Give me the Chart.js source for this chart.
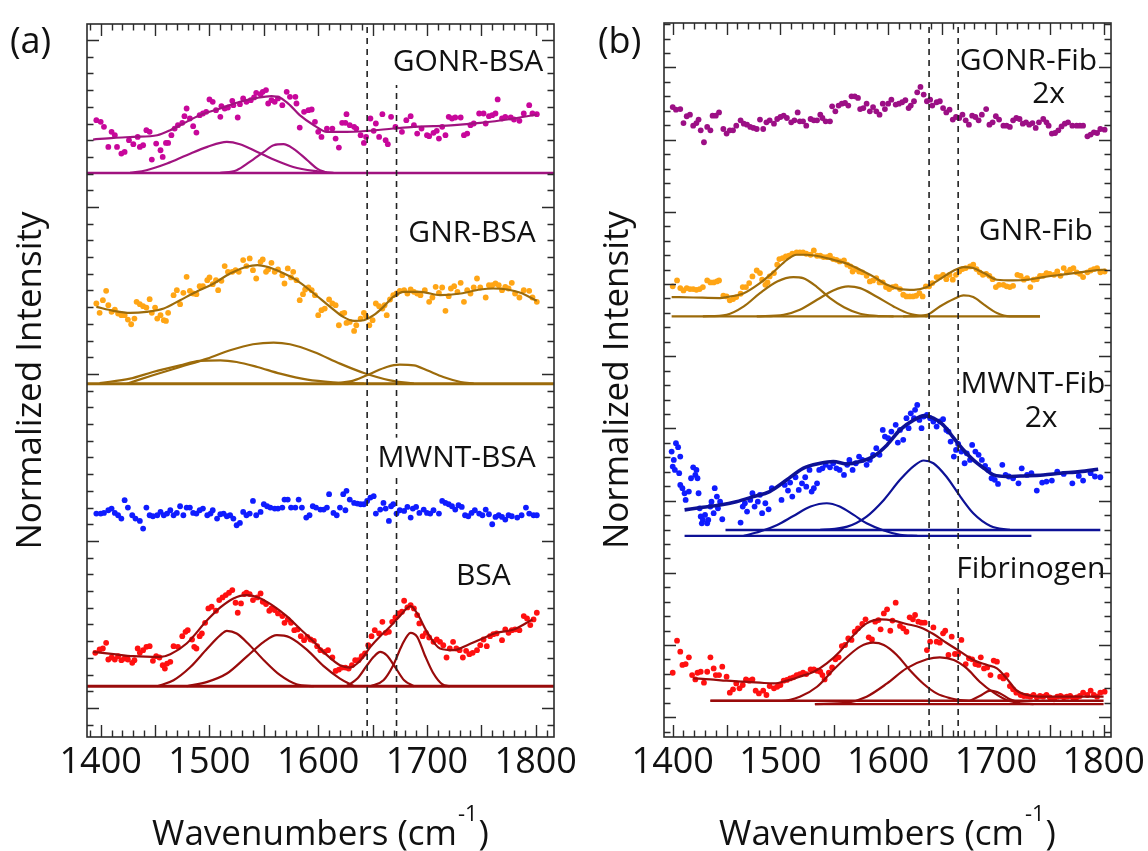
<!DOCTYPE html>
<html>
<head>
<meta charset="utf-8">
<title>FTIR amide spectra</title>
<script src="https://cdn.jsdelivr.net/npm/chart.js@4.4.1/dist/chart.umd.min.js"></script>
<style>
html,body{margin:0;padding:0;background:#fff;overflow:hidden;}
#wrap{position:relative;width:1148px;height:851px;}
#wrap canvas{position:absolute;left:0;top:0;}
</style>
</head>
<body>
<div id="wrap">
<canvas id="chartA" width="1148" height="851"></canvas>
<canvas id="chartB" width="1148" height="851"></canvas>
</div>
<script>
// ---------------- tick labels ----------------
const xTickLabels = [1400, 1500, 1600, 1700, 1800];

// ---------------- panel (a) : BSA ----------------
const gonrBsaX = [1396,1400,1403,1407,1410,1413,1415,1419,1422,1426,1430,1434,1436,1439,1442,1445,1447,1451,1455,1457,1460,1462,1465,1468,1471,1475,1477,1479,1482,1485,1488,1491,1494,1497,1500,1503,1506,1510,1511,1514,1517,1521,1522,1526,1528,1531,1534,1538,1541,1543,1547,1549,1552,1554,1557,1560,1563,1567,1571,1574,1579,1580,1583,1587,1591,1594,1597,1600,1603,1608,1613,1616,1619,1622,1625,1626,1629,1633,1635,1639,1642,1644,1648,1651,1653,1656,1659,1662,1664,1667,1671,1677,1681,1685,1688,1691,1695,1700,1702,1706,1709,1711,1714,1717,1720,1723,1726,1731,1734,1737,1740,1743,1748,1752,1754,1757,1760,1763,1765,1769,1772,1777,1780,1785,1789,1794,1797,1801];
const gonrBsaY = [35.2,35.1,34.8,33.6,34.5,34.3,33.6,33.2,33.3,34.0,33.76,34.2,33.6,33.7,34.6,34.5,32.84,33.8,33.4,33.0,33.84,33.84,34.3,34.7,34.9,35.04,35.44,35.9,35.3,34.84,34.46,35.5,35.6,35.7,36.44,36.3,35.8,35.4,36.04,35.9,35.96,36.36,36.1,35.36,36.16,36.5,36.3,36.4,36.56,36.84,36.76,36.9,37.0,36.2,36.4,36.3,36.5,36.1,36.9,36.6,36.6,36.2,34.76,35.7,35.8,35.84,35.1,34.5,34.2,34.7,34.7,34.1,33.56,35.04,35.04,35.56,34.9,34.8,34.7,34.3,33.84,34.2,35.3,34.56,35.0,34.2,35.56,34.0,33.76,35.4,34.8,34.5,35.2,35.44,34.9,34.4,34.7,34.3,34.24,34.44,34.56,34.1,34.8,34.3,35.4,35.3,35.36,35.36,34.3,34.4,34.9,35.0,35.6,35.6,35.0,35.44,35.5,35.6,36.44,35.3,35.4,35.36,35.24,35.16,35.6,36.1,35.6,35.56];
const gonrBsaFitX = [1393,1412,1430,1452,1464,1476,1491,1510,1528,1544,1557,1565,1574,1583,1596,1608,1626,1645,1669,1688,1706,1725,1749,1774,1801];
const gonrBsaFitY = [34.04,34.14,34.2,34.3,34.6,35.0,35.5,35.9,36.3,36.54,36.64,36.54,36.1,35.5,34.9,34.5,34.5,34.56,34.7,34.8,34.84,34.9,35.04,35.24,35.54];
const gonrBsaP1X = [1427,1442,1461,1479,1498,1516,1528,1544,1559,1577,1596,1614];
const gonrBsaP1Y = [32.04,32.2,32.6,33.1,33.6,33.9,33.76,33.3,32.84,32.4,32.16,32.04];
const gonrBsaP2X = [1510,1525,1537,1550,1559,1568,1577,1590,1599,1608];
const gonrBsaP2Y = [32.04,32.2,32.7,33.3,33.7,33.76,33.5,32.8,32.3,32.04];
const gonrBsaBase = 32.04;

const gnrBsaX = [1396,1399,1402,1405,1407,1410,1413,1416,1419,1422,1425,1428,1431,1433,1436,1439,1442,1445,1447,1450,1452,1455,1458,1460,1462,1467,1470,1473,1476,1479,1482,1485,1488,1491,1494,1498,1500,1503,1506,1508,1511,1514,1517,1521,1524,1527,1531,1534,1537,1540,1543,1547,1549,1552,1554,1557,1560,1563,1567,1569,1572,1575,1577,1580,1583,1586,1588,1591,1594,1597,1600,1603,1606,1610,1613,1616,1619,1622,1624,1626,1629,1633,1635,1639,1642,1644,1647,1650,1653,1656,1659,1661,1663,1666,1669,1672,1675,1679,1682,1685,1688,1691,1694,1698,1702,1705,1708,1711,1714,1717,1720,1722,1725,1728,1731,1734,1737,1740,1743,1746,1749,1754,1757,1760,1763,1766,1769,1772,1775,1778,1781,1785,1789,1794,1797,1801];
const gnrBsaY = [24.22,23.66,24.42,24.98,24.12,23.72,23.86,23.62,23.52,23.52,23.26,22.98,23.32,24.32,24.18,24.06,23.98,24.48,23.66,23.98,23.32,23.52,23.22,23.18,23.66,24.72,25.02,24.18,24.86,25.82,24.98,24.82,24.78,25.26,25.26,25.62,25.78,25.38,25.62,25.02,25.58,26.46,26.12,26.12,26.22,26.12,26.82,26.46,26.92,26.22,25.72,26.72,26.86,26.12,26.26,26.66,26.12,26.26,25.92,25.42,26.32,25.78,26.12,25.62,24.42,24.78,25.06,25.18,25.02,24.72,23.52,23.82,23.92,24.46,24.22,24.12,22.92,23.62,23.66,23.06,23.12,22.58,22.92,23.32,23.66,23.46,22.92,23.22,24.22,24.06,23.92,24.12,23.52,24.46,24.72,24.82,24.98,25.02,24.82,25.06,24.92,24.82,24.72,25.02,24.32,24.58,25.22,24.86,25.18,23.78,24.66,25.12,25.26,24.92,25.46,24.32,25.02,24.82,25.18,25.72,25.18,24.58,25.32,25.32,25.42,25.32,25.02,25.22,25.12,25.46,24.82,24.58,25.02,24.98,24.58,24.32];
const gnrBsaFitX = [1396,1412,1427,1442,1458,1473,1488,1504,1519,1534,1544,1553,1565,1580,1596,1611,1623,1633,1642,1651,1660,1669,1679,1694,1712,1731,1749,1761,1774,1786,1801];
const gnrBsaFitY = [24.02,23.78,23.66,23.72,23.92,24.42,24.92,25.42,26.02,26.42,26.52,26.42,26.12,25.62,24.82,24.02,23.42,23.18,23.22,23.52,24.02,24.62,24.92,24.92,24.72,24.82,25.06,25.12,25.06,24.86,24.38];
const gnrBsaP1X = [1399,1427,1448,1473,1491,1510,1525,1544,1565,1590,1614,1642];
const gnrBsaP1Y = [19.46,19.72,20.12,20.52,20.78,20.82,20.72,20.42,20.02,19.66,19.5,19.42];
const gnrBsaP2X = [1424,1448,1473,1498,1519,1540,1559,1574,1596,1620,1642,1666,1688];
const gnrBsaP2Y = [19.42,19.92,20.42,20.92,21.42,21.78,21.88,21.78,21.32,20.62,20.06,19.62,19.42];
const gnrBsaP3X = [1614,1633,1648,1663,1675,1688,1700,1715,1731,1743];
const gnrBsaP3Y = [19.42,19.62,20.02,20.42,20.56,20.52,20.22,19.82,19.52,19.42];
const gnrBsaBase = 19.42;

const mwntBsaX = [1396,1400,1403,1407,1410,1413,1416,1419,1422,1425,1429,1432,1436,1439,1442,1445,1448,1452,1455,1458,1461,1464,1467,1470,1473,1476,1479,1482,1485,1488,1491,1494,1498,1501,1503,1507,1510,1513,1516,1519,1522,1525,1528,1531,1534,1537,1540,1543,1547,1550,1553,1556,1560,1563,1567,1569,1572,1575,1579,1582,1585,1589,1592,1595,1598,1602,1605,1608,1610,1614,1617,1620,1623,1625,1626,1629,1633,1636,1639,1642,1645,1648,1651,1653,1657,1660,1662,1665,1667,1669,1672,1675,1679,1682,1685,1687,1690,1693,1697,1700,1703,1706,1711,1714,1717,1720,1723,1726,1729,1732,1735,1738,1741,1744,1748,1751,1754,1757,1760,1763,1766,1769,1772,1775,1778,1783,1787,1791,1794,1798,1801];
const mwntBsaY = [11.64,11.64,11.68,11.84,11.94,11.68,11.54,11.34,12.44,12.0,11.54,11.34,11.2,10.74,12.0,11.54,11.48,11.54,11.74,11.54,11.64,11.84,11.54,11.68,12.08,11.54,12.0,12.0,11.68,11.64,11.84,11.94,11.54,11.64,11.84,11.34,11.6,11.64,11.48,11.54,11.34,10.94,11.08,11.74,11.54,11.64,12.4,11.54,11.74,12.2,12.08,12.0,11.94,11.94,12.0,12.48,12.48,12.0,12.0,12.48,12.0,11.4,11.54,12.08,12.0,11.88,11.88,12.0,12.8,11.68,11.54,12.0,12.8,11.84,13.0,12.48,12.28,12.24,12.2,12.2,12.4,12.6,12.68,11.64,11.88,12.28,11.94,11.2,12.08,12.2,11.64,11.84,11.8,12.04,11.4,11.94,12.04,11.68,11.88,11.68,11.64,11.84,11.64,12.4,12.28,12.2,12.08,11.88,12.14,12.04,11.54,11.48,11.68,11.84,11.64,11.54,11.88,11.6,11.0,11.44,11.54,11.44,11.28,11.54,11.48,11.4,11.54,12.0,11.64,11.54,11.54];

const bsaX = [1395,1399,1402,1405,1407,1410,1413,1416,1419,1422,1425,1429,1431,1434,1436,1439,1442,1445,1448,1451,1454,1457,1459,1461,1464,1467,1471,1475,1478,1480,1484,1486,1488,1491,1493,1496,1499,1502,1506,1509,1512,1515,1518,1521,1524,1526,1529,1532,1534,1537,1540,1544,1547,1549,1552,1555,1557,1560,1563,1567,1569,1572,1575,1578,1581,1584,1587,1590,1593,1596,1599,1602,1606,1609,1613,1616,1619,1622,1625,1628,1631,1634,1637,1640,1643,1646,1649,1652,1656,1659,1662,1665,1668,1671,1674,1677,1679,1682,1685,1688,1691,1693,1696,1699,1702,1706,1709,1712,1715,1718,1721,1724,1727,1730,1733,1736,1739,1742,1746,1749,1752,1755,1758,1761,1764,1769,1772,1775,1778,1781,1785,1789,1792,1795,1798,1801];
const bsaY = [3.3,3.5,3.56,3.9,2.9,3.02,2.9,3.1,2.86,2.96,2.9,2.7,2.86,3.56,3.3,3.46,3.66,3.7,2.82,3.1,3.02,2.56,2.36,2.66,2.76,3.7,3.66,4.3,4.56,4.66,4.1,3.66,3.56,4.3,4.46,5.1,5.96,6.06,5.82,6.46,6.62,6.76,6.9,7.06,6.3,5.7,6.26,6.82,6.9,6.82,6.46,6.62,6.86,6.36,6.22,5.82,5.96,5.86,5.66,5.5,5.1,5.3,5.1,4.66,4.7,4.3,4.06,4.26,4.1,4.02,3.7,3.46,3.36,3.46,3.02,2.22,2.3,2.42,2.42,2.36,2.56,2.86,2.86,3.1,3.26,3.76,4.3,4.66,4.46,5.16,4.5,4.56,5.16,5.42,5.66,5.76,6.42,6.02,6.16,5.96,5.56,5.06,4.3,4.5,4.22,3.96,4.1,3.96,3.76,3.02,3.56,3.96,3.56,3.46,3.02,3.42,3.22,3.3,3.46,3.76,4.1,3.7,4.3,4.42,4.46,4.06,4.7,4.5,4.66,4.7,4.66,5.5,5.36,4.96,5.3,5.7];
const bsaFitX = [1393,1412,1430,1455,1464,1479,1498,1510,1522,1534,1547,1559,1571,1583,1596,1608,1620,1629,1639,1648,1657,1666,1675,1685,1691,1700,1712,1725,1737,1749,1764,1780,1797];
const bsaFitY = [3.36,3.22,3.1,3.06,3.22,3.86,5.26,6.02,6.56,6.76,6.56,6.1,5.5,4.76,3.96,3.16,2.56,2.42,2.86,3.66,4.3,4.86,5.5,6.1,5.66,4.56,3.56,3.46,3.76,4.1,4.5,4.7,5.3];
const bsaP1X = [1452,1467,1482,1498,1510,1516,1525,1537,1550,1565,1580,1596];
const bsaP1Y = [1.3,1.66,2.42,3.56,4.36,4.62,4.46,3.76,2.86,1.96,1.42,1.3];
const bsaP2X = [1479,1498,1516,1534,1550,1562,1574,1590,1605,1620,1633];
const bsaP2Y = [1.3,1.56,2.06,3.06,3.96,4.36,4.22,3.46,2.5,1.76,1.3];
const bsaP3X = [1626,1636,1645,1651,1657,1663,1671,1679,1688];
const bsaP3Y = [1.3,1.76,2.56,3.06,3.36,3.16,2.42,1.66,1.3];
const bsaP4X = [1648,1660,1669,1677,1685,1691,1698,1706,1714,1721];
const bsaP4Y = [1.3,1.66,2.56,3.76,4.5,4.26,3.16,2.06,1.42,1.3];
const bsaBase = 1.3;

const markersA = [1645, 1672];

// ---------------- panel (b) : Fibrinogen ----------------
const gonrFibX = [1400,1403,1407,1410,1413,1416,1419,1422,1424,1426,1429,1432,1435,1437,1440,1443,1447,1450,1453,1456,1459,1463,1466,1469,1472,1475,1478,1481,1484,1487,1490,1494,1497,1500,1503,1506,1510,1513,1516,1518,1521,1524,1528,1531,1534,1537,1539,1542,1546,1548,1551,1554,1557,1560,1563,1566,1569,1572,1574,1577,1580,1583,1586,1589,1592,1595,1597,1600,1603,1607,1610,1613,1616,1619,1621,1624,1627,1630,1633,1636,1639,1641,1645,1648,1651,1654,1657,1660,1663,1666,1669,1672,1675,1678,1681,1684,1687,1691,1694,1697,1700,1703,1707,1710,1713,1716,1719,1722,1725,1728,1731,1734,1737,1740,1744,1747,1749,1752,1755,1758,1761,1764,1767,1771,1775,1778,1781,1785,1788,1791,1794,1797,1801];
const gonrFibY = [42.26,42.08,42.12,41.15,41.62,41.73,40.97,41.15,41.39,40.65,39.82,40.88,40.65,41.66,41.66,41.89,40.74,40.42,40.65,40.65,40.97,41.34,41.11,41.04,40.88,40.81,40.74,41.39,40.74,41.2,41.34,41.11,41.43,41.57,41.66,41.5,41.2,41.34,41.89,41.27,41.27,40.97,41.43,41.34,41.34,41.73,41.5,41.27,41.27,42.31,41.96,42.36,42.49,42.54,42.36,43.0,43.0,42.89,42.12,42.19,42.49,41.96,42.26,41.96,41.73,42.49,42.12,42.49,42.77,42.43,42.49,42.59,42.73,42.19,42.36,42.66,43.28,43.65,43.12,42.66,42.77,42.36,42.59,42.66,42.19,41.89,42.08,41.39,41.57,41.5,41.73,41.34,41.04,41.66,41.57,41.34,41.73,42.12,41.04,41.2,41.62,41.39,40.97,40.97,40.88,41.34,41.5,41.43,41.11,41.2,41.04,41.15,40.81,41.2,41.43,41.2,40.97,40.42,40.46,40.65,40.92,41.11,41.2,40.97,40.97,40.97,40.97,40.23,40.35,40.51,40.46,40.74,40.69];

const gnrFibX = [1400,1404,1407,1410,1413,1416,1419,1422,1425,1428,1432,1435,1438,1441,1443,1447,1450,1453,1456,1459,1463,1465,1468,1471,1474,1478,1481,1483,1486,1488,1490,1494,1497,1499,1502,1505,1508,1511,1515,1518,1521,1524,1528,1531,1534,1537,1540,1543,1546,1549,1552,1555,1559,1562,1565,1567,1570,1573,1576,1580,1583,1586,1589,1592,1595,1598,1601,1604,1607,1611,1614,1617,1620,1623,1626,1629,1632,1635,1638,1641,1645,1648,1651,1654,1657,1660,1663,1666,1669,1672,1676,1679,1682,1685,1688,1691,1694,1697,1700,1703,1707,1710,1713,1716,1720,1723,1726,1729,1732,1735,1738,1741,1744,1747,1750,1754,1757,1760,1763,1766,1769,1772,1775,1778,1781,1785,1788,1791,1794,1797,1801];
const gnrFibY = [29.84,30.25,29.72,29.56,29.72,29.65,29.65,29.6,29.65,29.79,30.25,30.11,30.11,30.18,30.25,29.19,29.14,28.87,28.96,29.1,29.33,29.79,29.79,30.07,30.53,30.94,30.76,30.3,29.95,30.11,30.53,30.76,31.34,31.73,31.8,31.91,31.96,32.1,32.19,32.19,32.19,32.1,32.03,32.33,31.96,31.96,31.87,31.87,31.96,31.73,31.68,31.57,31.64,31.34,31.22,30.87,31.04,30.87,30.81,30.57,30.18,30.25,30.41,30.11,30.11,29.79,29.65,29.79,29.84,29.65,29.26,29.14,29.14,29.14,29.19,29.37,29.14,29.84,29.84,30.07,30.48,30.48,30.64,30.34,30.64,30.3,30.64,30.87,31.04,31.11,31.22,31.34,31.04,30.81,30.64,30.71,30.57,30.34,29.79,29.95,29.95,29.84,29.79,29.88,30.64,30.57,30.3,30.41,29.79,30.3,30.34,30.57,30.57,30.76,30.71,30.64,30.87,30.57,31.11,30.81,30.99,31.11,30.81,30.71,30.48,30.81,30.94,31.04,31.11,30.81,30.87];
const gnrFibFitX = [1399,1419,1444,1450,1466,1481,1494,1506,1515,1524,1537,1549,1562,1574,1586,1599,1611,1624,1636,1648,1661,1670,1679,1689,1701,1716,1729,1744,1760,1778,1791,1802];
const gnrFibFitY = [29.1,29.07,29.03,29.1,29.37,30.07,30.87,31.68,32.03,32.03,31.91,31.68,31.41,30.99,30.53,29.95,29.65,29.6,29.79,30.34,30.94,31.17,31.11,30.76,30.3,30.25,30.3,30.48,30.64,30.81,30.94,30.99];
const gnrFibP1X = [1428,1450,1466,1481,1497,1512,1521,1534,1546,1559,1574,1589,1605];
const gnrFibP1Y = [27.76,27.87,28.45,29.37,30.18,30.48,30.41,29.79,29.03,28.4,27.94,27.8,27.76];
const gnrFibP2X = [1478,1503,1518,1534,1549,1563,1574,1589,1605,1620,1636];
const gnrFibP2Y = [27.76,27.87,28.22,28.91,29.56,29.84,29.72,29.14,28.45,27.94,27.76];
const gnrFibP3X = [1614,1636,1648,1661,1670,1679,1689,1701,1713,1741];
const gnrFibP3Y = [27.76,27.87,28.45,28.97,29.21,29.1,28.57,27.99,27.76,27.76];
const gnrFibBaseX = [1399, 1741];
const gnrFibBase = 27.76;

const mwntFibX = [1399,1401,1403,1405,1407,1400,1402,1406,1407,1409,1411,1412,1415,1417,1419,1421,1422,1423,1424,1425,1426,1427,1428,1430,1432,1433,1435,1436,1438,1439,1441,1442,1444,1446,1463,1465,1467,1469,1472,1474,1476,1479,1481,1483,1486,1489,1492,1501,1504,1507,1509,1511,1514,1517,1520,1523,1524,1527,1529,1531,1534,1536,1539,1542,1546,1549,1552,1555,1559,1562,1564,1567,1570,1573,1576,1580,1583,1586,1589,1592,1595,1597,1600,1603,1607,1609,1611,1614,1617,1619,1621,1624,1625,1627,1629,1631,1633,1636,1639,1642,1645,1648,1651,1654,1656,1658,1661,1663,1665,1668,1671,1673,1676,1678,1681,1684,1687,1690,1693,1696,1699,1702,1706,1709,1712,1716,1721,1724,1729,1733,1738,1743,1747,1752,1757,1763,1771,1777,1781,1788,1792,1797];
const mwntFibY = [18.4,17.82,18.98,18.7,18.05,17.36,17.13,16.9,16.09,15.86,15.51,15.05,15.63,16.55,17.31,16.78,17.13,16.55,15.51,14.47,13.9,13.43,13.66,14.01,13.43,13.66,14.59,14.93,14.13,15.86,15.28,14.47,14.93,13.71,13.48,14.59,14.82,14.24,15.05,15.51,14.59,14.93,15.4,14.13,14.82,14.4,15.86,15.05,16.09,15.7,16.25,15.28,16.62,15.74,16.2,16.62,15.97,17.13,15.63,15.86,16.2,17.13,17.24,17.48,17.31,17.59,17.24,17.13,16.78,17.48,17.82,17.13,17.59,18.05,17.82,17.48,17.82,18.17,18.63,18.17,19.9,19.44,19.32,19.78,20.25,19.02,19.9,19.21,20.71,20.02,21.05,20.71,21.29,21.63,20.59,20.02,20.82,20.94,20.71,20.48,20.13,20.48,20.64,19.9,19.78,19.09,18.05,18.51,18.93,18.4,17.59,18.28,17.82,18.86,18.4,18.17,17.82,17.41,17.13,16.55,16.44,16.16,17.48,16.78,16.67,16.55,16.2,17.24,16.78,16.9,15.7,16.25,16.32,16.39,17.01,16.85,16.2,16.71,16.39,16.9,16.67,16.62];
const mwntFibFitX = [1411,1428,1444,1459,1475,1490,1506,1521,1537,1549,1562,1574,1586,1599,1611,1624,1633,1642,1651,1661,1670,1679,1689,1698,1710,1723,1744,1760,1778,1795];
const mwntFibFitY = [14.36,14.54,14.7,14.93,15.28,15.63,16.44,17.24,17.59,17.71,17.54,17.71,18.05,18.86,19.9,20.59,20.87,20.71,20.25,19.32,18.51,17.82,17.24,16.78,16.67,16.71,16.78,16.9,17.01,17.17];
const mwntFibP1X = [1466,1481,1497,1512,1528,1543,1555,1568,1580,1596,1611,1627];
const mwntFibP1Y = [12.56,12.86,13.32,13.94,14.59,14.82,14.59,14.01,13.43,12.93,12.63,12.56];
const mwntFibP2X = [1537,1562,1580,1596,1611,1624,1633,1642,1654,1667,1679,1695,1713];
const mwntFibP2Y = [12.97,13.2,13.9,15.05,16.44,17.41,17.78,17.59,16.67,15.28,14.13,13.25,12.97];
const mwntFibBase1X = [1411, 1733];
const mwntFibBase1 = 12.56;
const mwntFibBase2X = [1449, 1797];
const mwntFibBase2 = 12.97;

const fibX = [1400,1404,1407,1409,1412,1415,1418,1421,1423,1426,1429,1432,1435,1438,1440,1443,1446,1450,1453,1456,1459,1462,1465,1468,1471,1474,1477,1480,1484,1487,1490,1494,1497,1500,1503,1506,1509,1512,1515,1518,1521,1524,1528,1531,1534,1537,1539,1541,1545,1548,1551,1554,1557,1560,1563,1566,1569,1572,1576,1579,1582,1585,1588,1591,1593,1596,1599,1602,1604,1607,1611,1614,1617,1620,1623,1625,1628,1631,1634,1636,1639,1642,1645,1648,1651,1653,1656,1659,1662,1665,1668,1672,1675,1678,1681,1684,1686,1689,1692,1695,1698,1701,1704,1707,1710,1713,1716,1719,1723,1726,1729,1732,1735,1738,1741,1744,1747,1750,1754,1757,1760,1763,1766,1769,1772,1775,1778,1781,1785,1788,1791,1794,1797,1801];
const fibY = [3.08,5.3,4.54,3.62,3.68,4.15,2.92,2.62,3.08,3.15,2.39,3.15,4.15,3.38,2.92,2.92,3.5,2.81,1.7,1.93,2.34,2.0,2.23,2.62,2.53,2.62,1.84,1.65,1.84,1.54,2.16,2.0,2.11,2.23,2.53,2.58,2.69,2.76,2.92,2.99,3.08,2.99,3.31,3.31,3.22,3.15,2.92,2.62,3.08,3.45,4.01,4.15,4.93,5.0,5.46,5.35,5.92,6.16,6.46,6.78,5.53,5.39,6.62,6.73,6.09,7.19,7.47,5.99,6.69,7.93,6.32,6.16,5.92,6.92,6.78,7.08,6.62,6.55,6.55,4.65,5.23,6.22,5.23,5.16,5.81,5.99,4.31,5.58,4.38,4.38,5.35,3.68,4.08,4.01,3.68,3.62,4.15,3.38,3.45,2.92,3.92,3.85,2.81,2.69,2.92,2.16,1.93,1.7,1.54,1.47,1.47,1.42,1.54,1.38,1.47,1.42,1.54,1.38,1.24,1.42,1.47,1.38,1.42,1.47,1.31,1.38,1.47,1.7,1.54,1.84,1.54,1.42,1.7,1.77];
const fibFitX = [1419,1435,1450,1466,1481,1494,1506,1518,1531,1543,1555,1568,1580,1593,1605,1617,1630,1642,1654,1667,1679,1692,1701,1710,1719,1729,1744,1760,1778,1800];
const fibFitY = [2.69,2.62,2.53,2.46,2.39,2.34,2.53,2.81,3.15,3.73,4.54,5.69,6.5,6.78,6.69,6.46,6.22,5.76,5.16,4.54,3.96,3.62,3.38,2.69,1.88,1.54,1.42,1.42,1.42,1.42];
const fibP1X = [1435,1501,1518,1534,1549,1562,1574,1586,1596,1608,1620,1633,1645,1658,1667,1676];
const fibP1Y = [1.14,1.14,1.42,2.11,3.27,4.19,4.89,5.16,5.0,4.31,3.27,2.3,1.65,1.31,1.19,1.14];
const fibP2X = [1532,1562,1580,1599,1617,1636,1648,1661,1673,1685,1698,1710,1723,1735];
const fibP2Y = [0.91,1.01,1.42,2.34,3.38,4.01,4.15,3.96,3.38,2.46,1.7,1.19,0.96,0.91];
const fibP3X = [1676,1685,1695,1704,1713,1720];
const fibP3Y = [1.14,1.47,1.84,1.65,1.24,1.07];
const fibBase1X = [1435, 1800];
const fibBase1 = 1.14;
const fibBase2X = [1532, 1800];
const fibBase2 = 0.91;

const markersB = [1638, 1665];

// ---------------- helpers ----------------
const FONT = "'Open Sans', 'DejaVu Sans', sans-serif";
const TEXT = '#111111';
const C = {
  gonrPt: '#c8079b', gonrLn: '#a0137f', gonrFibPt: '#9c0f85',
  gnrPt: '#ffa515', gnrLn: '#9c6b0b',
  mwntPt: '#0f1cff', mwntLn: '#0d1196',
  redPt: '#ff1010', redLn: '#990b0b'
};
function pts(xs, ys) { return xs.map((x, i) => ({ x: x, y: ys[i] })); }
function dots(xs, ys, color) {
  return { data: pts(xs, ys), backgroundColor: color, borderColor: color, pointRadius: 2.9, pointBorderWidth: 0, showLine: false };
}
function curve(xs, ys, color, w) {
  return { data: pts(xs, ys), borderColor: color, backgroundColor: color, borderWidth: w || 2.2, pointRadius: 0, showLine: true, fill: false, cubicInterpolationMode: 'monotone' };
}
function flat(xs, yv, color, w) { return curve(xs, xs.map(() => yv), color, w); }
function dashed(x, y0, y1) {
  return { data: [{ x: x, y: y0 }, { x: x, y: y1 }], borderColor: '#222', borderWidth: 1.6, borderDash: [6, 5], pointRadius: 0, showLine: true };
}

function panelPlugin(P) {
  return {
    id: 'panelDecor',
    afterDatasetsDraw(chart) {
      const ctx = chart.ctx, a = chart.chartArea, xs = chart.scales.x, ys = chart.scales.y;
      ctx.save();
      ctx.font = '30px ' + FONT;
      ctx.textBaseline = 'alphabetic';
      ctx.textAlign = 'left';
      P.notes.forEach(n => {
        const px = xs.getPixelForValue(n.x), py = ys.getPixelForValue(n.y);
        const w = ctx.measureText(n.text).width;
        const left = n.align === 'right' ? px - w : (n.align === 'center' ? px - w / 2 : px);
        if (n.bg) {
          ctx.fillStyle = '#ffffff';
          ctx.fillRect(left - 1, py - 29, w + 2, 38);
        }
        ctx.fillStyle = TEXT;
        ctx.fillText(n.text, left, py);
      });
      ctx.strokeStyle = '#2b2b2b';
      ctx.lineWidth = 1.6;
      ctx.strokeRect(a.left, a.top, a.right - a.left, a.bottom - a.top);
      ctx.lineWidth = 1.4;
      ctx.beginPath();
      for (let v = Math.ceil(P.xMin / 10) * 10; v <= P.xMax; v += 10) {
        const px = Math.round(xs.getPixelForValue(v)) + 0.5;
        const len = v % 50 === 0 ? 12 : 6.5;
        ctx.moveTo(px, a.bottom); ctx.lineTo(px, a.bottom - len);
        ctx.moveTo(px, a.top); ctx.lineTo(px, a.top + len);
      }
      for (let v = Math.ceil(P.yMin); v <= P.yMax; v += 1) {
        const py = Math.round(ys.getPixelForValue(v)) + 0.5;
        const len = v % P.yMajor === 0 ? 12 : 6.5;
        ctx.moveTo(a.left, py); ctx.lineTo(a.left + len, py);
        ctx.moveTo(a.right, py); ctx.lineTo(a.right - len, py);
      }
      ctx.stroke();
      ctx.restore();
    },
    afterDraw(chart) {
      const ctx = chart.ctx, a = chart.chartArea;
      ctx.save();
      ctx.fillStyle = TEXT;
      ctx.textBaseline = 'alphabetic';
      ctx.textAlign = 'left';
      ctx.font = '36px ' + FONT;
      ctx.fillText(P.letter, P.letterX, P.letterY);
      const big = '35px ' + FONT, small = '22px ' + FONT;
      ctx.font = big;
      const w1 = ctx.measureText('Wavenumbers (cm').width;
      const w3 = ctx.measureText(')').width;
      ctx.font = small;
      const w2 = ctx.measureText('-1').width + 2;
      const cx = (a.left + a.right) / 2;
      const sx = cx - (w1 + w2 + w3) / 2;
      ctx.font = big; ctx.fillText('Wavenumbers (cm', sx, P.titleBase);
      ctx.font = small; ctx.fillText('-1', sx + w1 + 1, P.titleBase - 24);
      ctx.font = big; ctx.fillText(')', sx + w1 + w2, P.titleBase);
      ctx.restore();
    }
  };
}

function makeChart(id, P) {
  return new Chart(document.getElementById(id), {
    type: 'scatter',
    data: { datasets: P.datasets },
    options: {
      responsive: false,
      animation: false,
      devicePixelRatio: 1,
      events: [],
      layout: { padding: { left: P.padLeft, right: P.padRight, top: P.padTop, bottom: 0 } },
      plugins: { legend: { display: false }, tooltip: { enabled: false } },
      scales: {
        x: {
          type: 'linear', position: 'bottom', min: P.xMin, max: P.xMax,
          afterBuildTicks: s => { s.ticks = xTickLabels.map(v => ({ value: v })); },
          afterFit: s => { s.height = 114; s.paddingLeft = 0; s.paddingRight = 0; },
          ticks: { font: { size: 36, family: FONT }, color: TEXT, padding: 4, maxRotation: 0, autoSkip: false, callback: v => String(v) },
          grid: { display: false, drawTicks: false },
          border: { display: false }
        },
        y: {
          type: 'linear', position: 'left', min: P.yMin, max: P.yMax,
          afterFit: s => { s.width = P.yWidth; },
          ticks: { display: false },
          grid: { display: false, drawTicks: false },
          border: { display: false },
          title: { display: true, text: 'Normalized Intensity', color: TEXT, font: { size: 35, family: FONT }, padding: { top: P.titlePad, bottom: 0 } }
        }
      }
    },
    plugins: [panelPlugin(P)]
  });
}

// ---------------- panel (a) ----------------
const aXMin = 1387.4, aXMax = 1816.8, aYMin = -1.74, aYMax = 40.96;
const aFull = [aXMin, aXMax];
makeChart('chartA', {
  xMin: aXMin, xMax: aXMax, yMin: aYMin, yMax: aYMax, yMajor: 10,
  padLeft: 0, padRight: 594, padTop: 24, yWidth: 87, titlePad: 10,
  letter: '(a)', letterX: 10, letterY: 53, titleBase: 845,
  notes: [
    { text: 'GONR-BSA', x: 1807, y: 38.14, align: 'right', bg: true },
    { text: 'GNR-BSA', x: 1800, y: 27.92, align: 'right', bg: true },
    { text: 'MWNT-BSA', x: 1800, y: 14.45, align: 'right', bg: true },
    { text: 'BSA', x: 1777, y: 7.37, align: 'right', bg: true }
  ],
  datasets: [
    dashed(markersA[0], aYMin, aYMax),
    dashed(markersA[1], aYMin, 37.3),
    curve(gonrBsaFitX, gonrBsaFitY, C.gonrLn),
    curve(gonrBsaP1X, gonrBsaP1Y, C.gonrLn),
    curve(gonrBsaP2X, gonrBsaP2Y, C.gonrLn),
    flat(aFull, gonrBsaBase, C.gonrLn, 2.6),
    curve(gnrBsaFitX, gnrBsaFitY, C.gnrLn),
    curve(gnrBsaP1X, gnrBsaP1Y, C.gnrLn),
    curve(gnrBsaP2X, gnrBsaP2Y, C.gnrLn),
    curve(gnrBsaP3X, gnrBsaP3Y, C.gnrLn),
    flat(aFull, gnrBsaBase, C.gnrLn, 3),
    curve(bsaFitX, bsaFitY, C.redLn),
    curve(bsaP1X, bsaP1Y, C.redLn),
    curve(bsaP2X, bsaP2Y, C.redLn),
    curve(bsaP3X, bsaP3Y, C.redLn),
    curve(bsaP4X, bsaP4Y, C.redLn),
    flat(aFull, bsaBase, C.redLn, 3),
    dots(gonrBsaX, gonrBsaY, C.gonrPt),
    dots(gnrBsaX, gnrBsaY, C.gnrPt),
    dots(mwntBsaX, mwntBsaY, C.mwntPt),
    dots(bsaX, bsaY, C.redPt)
  ]
});

// ---------------- panel (b) ----------------
const bXMin = 1391.9, bXMax = 1806.9, bYMin = -1.37, bYMax = 48.08;
makeChart('chartB', {
  xMin: bXMin, xMax: bXMax, yMin: bYMin, yMax: bYMax, yMajor: 5,
  padLeft: 574, padRight: 37, padTop: 23, yWidth: 90, titlePad: 23,
  letter: '(b)', letterX: 598, letterY: 53, titleBase: 845,
  notes: [
    { text: 'GONR-Fib', x: 1794, y: 44.85, align: 'right', bg: false },
    { text: '2x', x: 1749, y: 42.54, align: 'center', bg: false },
    { text: 'GNR-Fib', x: 1790, y: 33.07, align: 'right', bg: true },
    { text: 'MWNT-Fib', x: 1801.7, y: 22.45, align: 'right', bg: false },
    { text: '2x', x: 1742, y: 20.13, align: 'center', bg: false },
    { text: 'Fibrinogen', x: 1801.7, y: 9.65, align: 'right', bg: true }
  ],
  datasets: [
    dashed(markersB[0], bYMin, bYMax),
    dashed(markersB[1], bYMin, bYMax),
    curve(gnrFibFitX, gnrFibFitY, C.gnrLn),
    curve(gnrFibP1X, gnrFibP1Y, C.gnrLn),
    curve(gnrFibP2X, gnrFibP2Y, C.gnrLn),
    curve(gnrFibP3X, gnrFibP3Y, C.gnrLn),
    flat(gnrFibBaseX, gnrFibBase, C.gnrLn, 2.4),
    curve(mwntFibFitX, mwntFibFitY, C.mwntLn, 3.6),
    curve(mwntFibP1X, mwntFibP1Y, C.mwntLn),
    curve(mwntFibP2X, mwntFibP2Y, C.mwntLn),
    flat(mwntFibBase1X, mwntFibBase1, C.mwntLn, 2.4),
    flat(mwntFibBase2X, mwntFibBase2, C.mwntLn, 2.4),
    curve(fibFitX, fibFitY, C.redLn),
    curve(fibP1X, fibP1Y, C.redLn),
    curve(fibP2X, fibP2Y, C.redLn),
    curve(fibP3X, fibP3Y, C.redLn),
    flat(fibBase1X, fibBase1, C.redLn, 2.4),
    flat(fibBase2X, fibBase2, C.redLn, 2.4),
    dots(gonrFibX, gonrFibY, C.gonrFibPt),
    dots(gnrFibX, gnrFibY, C.gnrPt),
    dots(mwntFibX, mwntFibY, C.mwntPt),
    dots(fibX, fibY, C.redPt)
  ]
});
</script>
</body>
</html>
